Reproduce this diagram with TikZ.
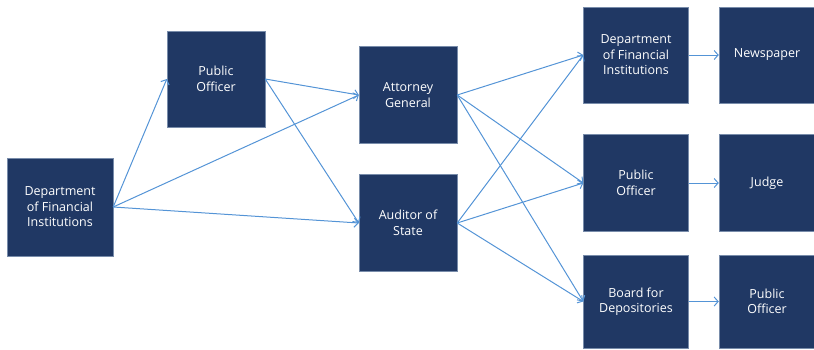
\documentclass[tikz,border=0pt]{standalone}
\usepackage{fontspec}
\setmainfont{Open Sans}
\usetikzlibrary{arrows.meta}
\definecolor{boxfill}{RGB}{32,56,100}
\definecolor{boxedge}{RGB}{120,140,170}
\definecolor{arrowblue}{RGB}{84,148,214}
\begin{document}
\begin{tikzpicture}[x=1pt,y=-1pt,
  box/.style={draw=boxedge,line width=0.4pt,fill=boxfill,text=white,align=center,
    inner sep=0pt,font=\fontsize{12.5}{15.5}\selectfont},
  link/.style={draw=arrowblue,line width=1pt,-{Straight Barb[length=4pt,width=9pt,line width=1pt]}}]
\useasboundingbox (0,0) rectangle (814,349);
\node[box,minimum width=106,minimum height=98] (dfiL) at (60,207) {Department\\of Financial\\Institutions};
\node[box,minimum width=98,minimum height=96] (poT) at (216,79) {Public\\Officer};
\node[box,minimum width=98,minimum height=97] (ag) at (408,95) {Attorney\\General};
\node[box,minimum width=98,minimum height=97] (aud) at (408,223) {Auditor of\\State};
\node[box,minimum width=105,minimum height=96] (dfiR) at (636,55) {Department\\of Financial\\Institutions};
\node[box,minimum width=105,minimum height=97] (poM) at (636,183) {Public\\Officer};
\node[box,minimum width=105,minimum height=93] (bfd) at (636,301.5) {Board for\\Depositories};
\node[box,minimum width=96,minimum height=96] (news) at (767,55) {Newspaper};
\node[box,minimum width=96,minimum height=97] (judge) at (767,183) {Judge};
\node[box,minimum width=96,minimum height=93] (poB) at (767,301.5) {Public\\Officer};
\draw[link] (dfiL.east) -- (poT.west);
\draw[link] (dfiL.east) -- (ag.west);
\draw[link] (dfiL.east) -- (aud.west);
\draw[link] (poT.east) -- (ag.west);
\draw[link] (poT.east) -- (aud.west);
\draw[link] (ag.east) -- (dfiR.west);
\draw[link] (ag.east) -- (poM.west);
\draw[link] (ag.east) -- (bfd.west);
\draw[link] (aud.east) -- (dfiR.west);
\draw[link] (aud.east) -- (poM.west);
\draw[link] (aud.east) -- (bfd.west);
\draw[link] (dfiR.east) -- (news.west);
\draw[link] (poM.east) -- (judge.west);
\draw[link] (bfd.east) -- (poB.west);
\end{tikzpicture}
\end{document}
